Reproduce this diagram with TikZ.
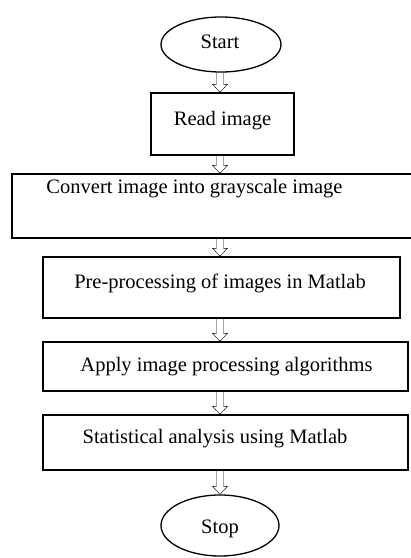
\documentclass[tikz,border=0pt]{standalone}
\usepackage{fontspec}
\setmainfont{Liberation Serif}
\usetikzlibrary{shapes.geometric,calc}
\begin{document}
\begin{tikzpicture}[x=1pt,y=-1pt,
  every node/.style={inner sep=0pt},
  boxst/.style={draw, line width=1.4pt, rectangle},
  ovalst/.style={draw, line width=1.3pt, ellipse},
  txt/.style={anchor=base, font=\fontsize{20.5}{24}\selectfont},
  harrow/.style={line width=1.3pt, to path={let \p1=(\tikztostart), \p2=(\tikztotarget) in
    (\x1-3.5pt,\y1) -- (\x1-3.5pt,\y2+8pt) -- (\x1-7.5pt,\y2+8pt) -- (\x1,\y2)
    -- (\x1+7.5pt,\y2+8pt) -- (\x1+3.5pt,\y2+8pt) -- (\x1+3.5pt,\y1)}}
]
\clip (0,0) rectangle (411,558);
\coordinate (axis) at (220,0);
% shapes
\node[ovalst, minimum width=120pt, minimum height=55pt] (start) at (221,44.5) {};
\node[boxst, minimum width=143pt, minimum height=62pt] (read) at (222.5,124) {};
\node[boxst, minimum width=404pt, minimum height=64pt] (convert) at (214,206) {};
\node[boxst, minimum width=357pt, minimum height=61pt] (pre) at (221.5,287.5) {};
\node[boxst, minimum width=365pt, minimum height=49pt] (apply) at (225.5,366.5) {};
\node[boxst, minimum width=365pt, minimum height=55pt] (stat) at (225.5,442.5) {};
\node[ovalst, minimum width=118pt, minimum height=61pt] (stop) at (220,525.5) {};
% texts
\node[txt] (startt) at (220,48) {Start};
\node[txt] (readt) at (222.5,125) {Read image};
\node[txt] (convertt) at (194.5,193) {Convert image into grayscale image};
\node[txt] (pret) at (220,288) {Pre-processing of images in Matlab};
\node[txt] (applyt) at (226.5,371) {Apply image processing algorithms};
\node[txt] (statt) at (215,443) {Statistical analysis using Matlab};
\node[txt] (stopt) at (220,533) {Stop};
% connectors
\draw (start.south -| axis) to[harrow] (read.north);
\draw (read.south -| axis) to[harrow] (convert.north);
\draw (convert.south -| axis) to[harrow] (pre.north);
\draw (pre.south -| axis) to[harrow] (apply.north);
\draw (apply.south -| axis) to[harrow] (stat.north);
\draw (stat.south -| axis) to[harrow] (stop.north);
\end{tikzpicture}
\end{document}
